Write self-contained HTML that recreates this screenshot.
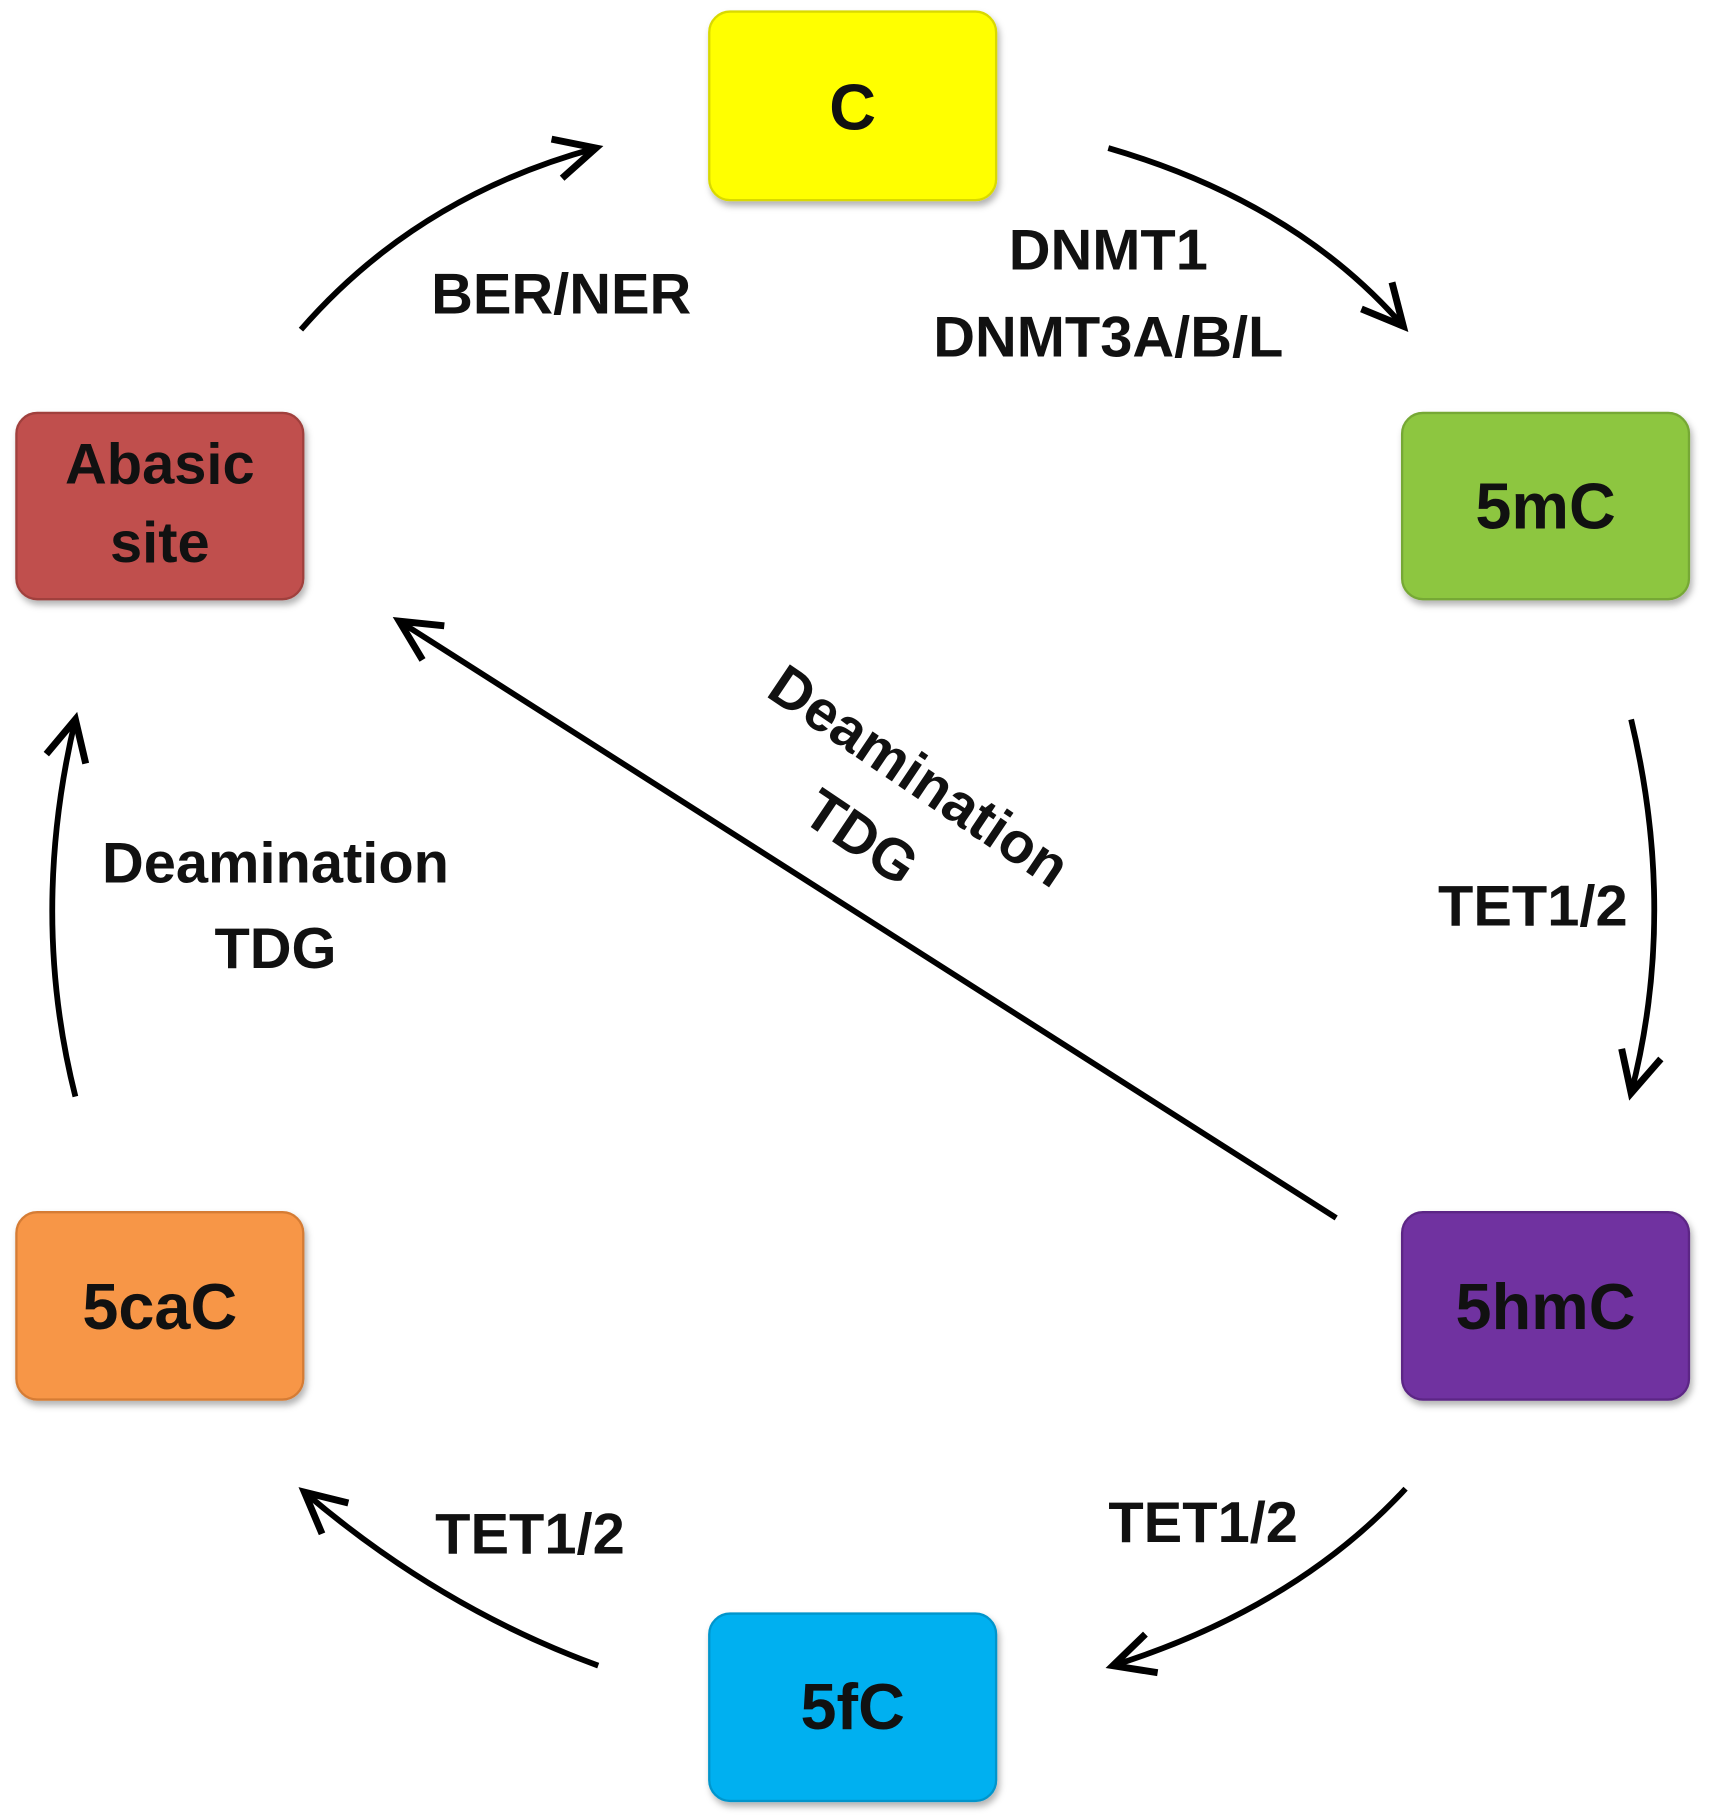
<!DOCTYPE html>
<html><head><style>html,body{margin:0;padding:0;background:#fff}svg{display:block}</style></head>
<body>
<svg width="1710" height="1816" viewBox="0 0 1478 1570" xmlns="http://www.w3.org/2000/svg" font-family="Liberation Sans, sans-serif" font-weight="bold">
<defs>
<marker id="a" markerWidth="10" markerHeight="10" refX="8" refY="5" orient="auto" markerUnits="strokeWidth">
<path d="M1,1.5 L8,5 L1,8.5" fill="none" stroke="#000" stroke-width="1.2"/>
</marker>
<filter id="s" x="-10%" y="-10%" width="130%" height="130%"><feDropShadow dx="2" dy="4" stdDeviation="3" flood-color="#000" flood-opacity="0.3"/></filter>
</defs>
<g filter="url(#s)" stroke-width="2">
<rect x="613" y="10" width="248" height="163" rx="18" fill="#ffff00" stroke="#d9d900"/>
<rect x="1212" y="357" width="248" height="161" rx="18" fill="#8dc63f" stroke="#76a835"/>
<rect x="1212" y="1048" width="248" height="162" rx="18" fill="#7030a0" stroke="#5c2785"/>
<rect x="613" y="1395" width="248" height="162" rx="18" fill="#00b0f0" stroke="#0095cc"/>
<rect x="14" y="1048" width="248" height="162" rx="18" fill="#f79646" stroke="#d57c34"/>
<rect x="14" y="357" width="248" height="161" rx="18" fill="#c0504d" stroke="#a0403d"/>
</g>
<g font-size="56" text-anchor="middle" fill="#111">
<text x="737" y="112">C</text>
<text x="1336" y="457">5mC</text>
<text x="1336" y="1149">5hmC</text>
<text x="737" y="1495">5fC</text>
<text x="138" y="1149">5caC</text>
<text x="138" y="418" font-size="50">Abasic</text>
<text x="138" y="486" font-size="50">site</text>
</g>
<g fill="none" stroke="#000" stroke-width="5" marker-end="url(#a)">
<path d="M260,285 Q360,170 515,128"/>
<path d="M958,128 Q1120,175 1213,282"/>
<path d="M1410,622 Q1450,790 1410,945"/>
<path d="M1215,1287 Q1120,1390 962,1440"/>
<path d="M517,1440 Q380,1390 263,1290"/>
<path d="M65,948 Q25,790 65,622"/>
<path d="M1155,1053 L345,537"/>
</g>
<g font-size="50" text-anchor="middle" fill="#111">
<text x="485" y="271">BER/NER</text>
<text x="958" y="233">DNMT1</text>
<text x="958" y="308">DNMT3A/B/L</text>
<text x="1325" y="800">TET1/2</text>
<text x="1040" y="1333">TET1/2</text>
<text x="458" y="1343">TET1/2</text>
<text x="238" y="763">Deamination</text>
<text x="238" y="837">TDG</text>
<g transform="translate(785,685) rotate(34)"><text x="0" y="0">Deamination</text><text x="-12" y="72">TDG</text></g>
</g>
</svg>
</body></html>
